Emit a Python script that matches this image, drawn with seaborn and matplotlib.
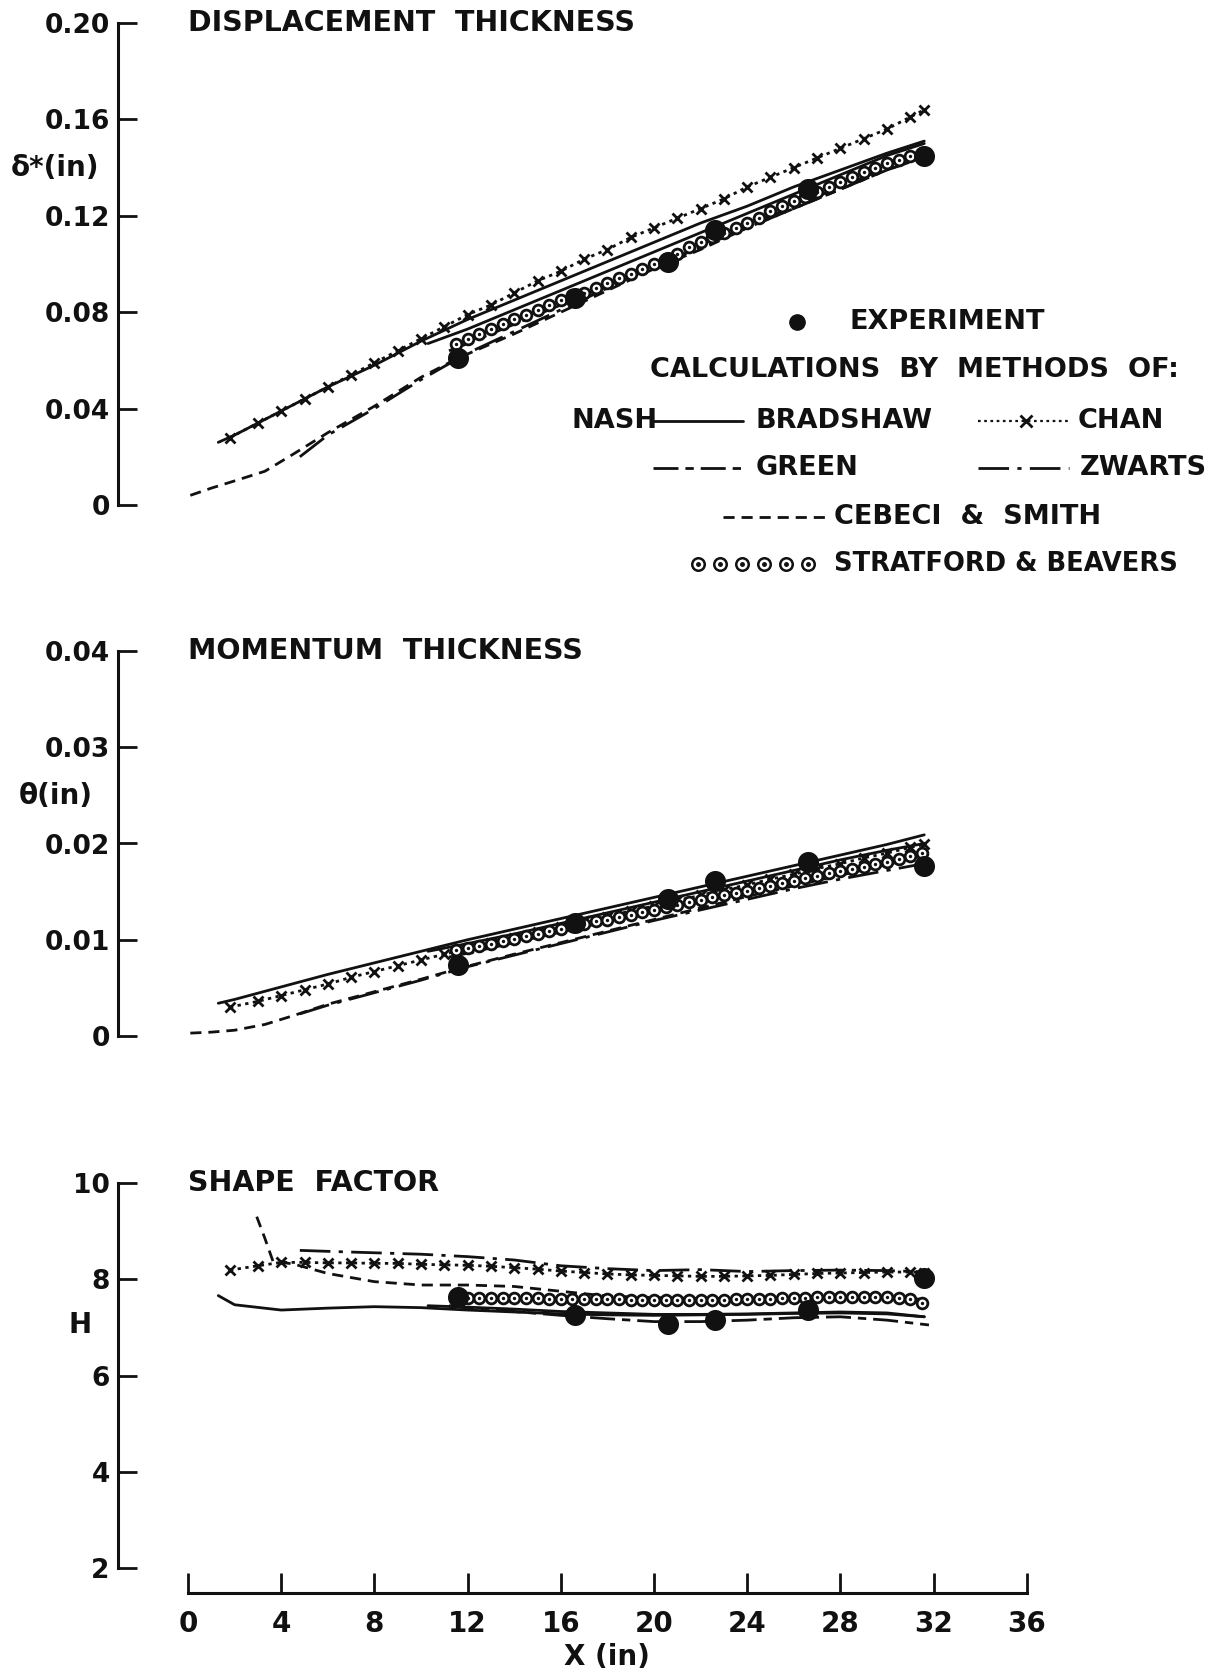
import numpy as np
import pandas as pd
import matplotlib
matplotlib.use("Agg")
import matplotlib.pyplot as plt
import seaborn as sns

sns.set_style("white")
plt.rcParams['font.family'] = ['DejaVu Sans']
plt.rcParams['font.weight'] = 'bold'

# ---------------- data ----------------
exp_x = [11.6, 16.6, 20.6, 22.6, 26.6, 31.6]
exp_dstar = [0.061, 0.086, 0.101, 0.114, 0.131, 0.145]
exp_theta = [0.0074, 0.0117, 0.0142, 0.0161, 0.0181, 0.0177]
exp_H = [7.63, 7.26, 7.08, 7.15, 7.36, 8.02]

nash_x = [1.3, 2, 4, 6, 8, 10, 12, 14, 16, 18, 20, 22, 24, 26, 28, 30, 31.6]
nash_dstar = [0.026, 0.029, 0.039, 0.049, 0.058, 0.068, 0.077, 0.085, 0.093, 0.101,
              0.109, 0.117, 0.124, 0.132, 0.139, 0.146, 0.151]
nash_theta = [0.0034, 0.0038, 0.0051, 0.0064, 0.0076, 0.0088, 0.0100, 0.0111, 0.0122,
              0.0133, 0.0144, 0.0155, 0.0166, 0.0177, 0.0188, 0.0199, 0.0209]
nash_H = [7.66, 7.47, 7.36, 7.40, 7.43, 7.41, 7.36, 7.32, 7.28, 7.26, 7.25, 7.26,
          7.27, 7.29, 7.30, 7.28, 7.22]

brad_x = [10.3, 12, 14, 16, 18, 20, 22, 24, 26, 28, 30, 31.6]
brad_dstar = [0.067, 0.073, 0.081, 0.089, 0.097, 0.105, 0.113, 0.121, 0.129, 0.137, 0.145, 0.150]
brad_theta = [0.0088, 0.0096, 0.0106, 0.0117, 0.0128, 0.0139, 0.0150, 0.0161, 0.0172,
              0.0183, 0.0193, 0.0200]
brad_H = [7.45, 7.42, 7.38, 7.33, 7.30, 7.27, 7.27, 7.28, 7.30, 7.32, 7.30, 7.22]

chan_x = [1.8, 3, 4, 5, 6, 7, 8, 9, 10, 11, 12, 13, 14, 15, 16, 17, 18, 19, 20, 21, 22,
          23, 24, 25, 26, 27, 28, 29, 30, 31, 31.6]
chan_dstar = [0.028, 0.034, 0.039, 0.044, 0.049, 0.054, 0.059, 0.064, 0.069, 0.074,
              0.079, 0.083, 0.088, 0.093, 0.097, 0.102, 0.106, 0.111, 0.115, 0.119,
              0.123, 0.127, 0.132, 0.136, 0.140, 0.144, 0.148, 0.152, 0.156, 0.161, 0.164]
chan_theta = [0.0030, 0.0036, 0.0042, 0.0048, 0.0054, 0.0061, 0.0067, 0.0073, 0.0079,
              0.0085, 0.0091, 0.0097, 0.0102, 0.0108, 0.0113, 0.0119, 0.0124, 0.0130,
              0.0135, 0.0141, 0.0146, 0.0152, 0.0157, 0.0163, 0.0168, 0.0174, 0.0179,
              0.0185, 0.0190, 0.0196, 0.0199]
chan_H = [8.19, 8.28, 8.35, 8.35, 8.34, 8.34, 8.33, 8.33, 8.31, 8.30, 8.29, 8.27, 8.24,
          8.21, 8.17, 8.14, 8.11, 8.09, 8.08, 8.07, 8.06, 8.06, 8.07, 8.08, 8.10, 8.12,
          8.13, 8.14, 8.15, 8.15, 8.14]

green_x = [11.2, 12, 14, 16, 18, 20, 22, 24, 26, 28, 30, 31.8]
green_dstar = [0.064, 0.067, 0.075, 0.083, 0.091, 0.099, 0.107, 0.115, 0.123, 0.131, 0.139, 0.145]
green_theta = [0.0082, 0.0086, 0.0097, 0.0108, 0.0119, 0.0130, 0.0141, 0.0152, 0.0163,
               0.0173, 0.0182, 0.0189]
green_H = [7.45, 7.40, 7.33, 7.25, 7.18, 7.12, 7.12, 7.15, 7.20, 7.22, 7.15, 7.05]

zw_x = [4.8, 6, 8, 10, 12, 14, 16, 18, 20, 22, 24, 26, 28, 30, 31.8]
zw_dstar = [0.020, 0.029, 0.040, 0.052, 0.063, 0.072, 0.081, 0.090, 0.099, 0.107, 0.116,
            0.124, 0.132, 0.140, 0.147]
zw_theta = [0.0023, 0.0032, 0.0045, 0.0058, 0.0072, 0.0084, 0.0096, 0.0108, 0.0120,
            0.0131, 0.0142, 0.0153, 0.0163, 0.0172, 0.0180]
zw_H = [8.60, 8.58, 8.55, 8.52, 8.47, 8.40, 8.28, 8.22, 8.18, 8.20, 8.16, 8.18, 8.19, 8.18, 8.15]

ceb_x = [0.1, 1, 2, 3.3, 4.5, 6, 8, 10, 11.6, 14, 16, 18, 20, 22, 24, 26, 28, 30, 31.7]
ceb_dstar = [0.004, 0.007, 0.010, 0.014, 0.021, 0.030, 0.041, 0.053, 0.061, 0.071, 0.080,
             0.089, 0.098, 0.106, 0.115, 0.123, 0.131, 0.139, 0.145]
ceb_theta = [0.0003, 0.0004, 0.0006, 0.0012, 0.0021, 0.0033, 0.0046, 0.0059, 0.0070,
             0.0085, 0.0097, 0.0109, 0.0121, 0.0133, 0.0145, 0.0156, 0.0167, 0.0178, 0.0188]
ceb_xH = [2.95, 3.3, 3.65, 4.5, 6, 8, 10, 12, 14, 16, 18, 20, 22, 24, 26, 28, 30, 31.7]
ceb_H = [9.30, 8.85, 8.37, 8.32, 8.12, 7.95, 7.88, 7.88, 7.85, 7.75, 7.65, 7.62, 7.60,
         7.60, 7.62, 7.63, 7.62, 7.58]

sb_x = [11.5, 12.0, 12.5, 13.0, 13.5, 14.0, 14.5, 15.0, 15.5, 16.0, 16.5, 17.0, 17.5,
        18.0, 18.5, 19.0, 19.5, 20.0, 20.5, 21.0, 21.5, 22.0, 22.5, 23.0, 23.5, 24.0,
        24.5, 25.0, 25.5, 26.0, 26.5, 27.0, 27.5, 28.0, 28.5, 29.0, 29.5, 30.0, 30.5,
        31.0, 31.5]
sb_dstar = [0.067, 0.069, 0.071, 0.073, 0.075, 0.077, 0.079, 0.081, 0.083, 0.085, 0.087,
            0.088, 0.090, 0.092, 0.094, 0.096, 0.098, 0.100, 0.102, 0.104, 0.107, 0.109,
            0.111, 0.113, 0.115, 0.117, 0.119, 0.122, 0.124, 0.126, 0.128, 0.130, 0.132,
            0.134, 0.136, 0.138, 0.140, 0.142, 0.143, 0.145, 0.146]
sb_theta = [0.0089, 0.0091, 0.0094, 0.0096, 0.0099, 0.0101, 0.0104, 0.0106, 0.0109,
            0.0111, 0.0114, 0.0116, 0.0119, 0.0121, 0.0124, 0.0126, 0.0129, 0.0131,
            0.0134, 0.0136, 0.0139, 0.0141, 0.0144, 0.0146, 0.0149, 0.0151, 0.0154,
            0.0156, 0.0159, 0.0161, 0.0164, 0.0166, 0.0169, 0.0171, 0.0174, 0.0176,
            0.0179, 0.0181, 0.0184, 0.0187, 0.0190]
sb_H = [7.63, 7.62, 7.62, 7.62, 7.62, 7.62, 7.61, 7.61, 7.60, 7.60, 7.59, 7.59, 7.58,
        7.58, 7.58, 7.57, 7.57, 7.57, 7.57, 7.57, 7.57, 7.57, 7.57, 7.57, 7.58, 7.58,
        7.59, 7.60, 7.61, 7.62, 7.62, 7.63, 7.63, 7.63, 7.64, 7.64, 7.64, 7.64, 7.62,
        7.58, 7.50]

x_ticks = [0, 4, 8, 12, 16, 20, 24, 28, 32, 36]
dstar_ticks = [0, 0.04, 0.08, 0.12, 0.16, 0.20]
dstar_ticklabels = ["0", "0.04", "0.08", "0.12", "0.16", "0.20"]
theta_ticks = [0, 0.01, 0.02, 0.03, 0.04]
theta_ticklabels = ["0", "0.01", "0.02", "0.03", "0.04"]
H_ticks = [2, 4, 6, 8, 10]
H_ticklabels = ["2", "4", "6", "8", "10"]

# ---------------- styles ----------------
INK = "#111111"
LW = 2.0
styles = {
    "nash": dict(linestyle="-"),
    "brad": dict(linestyle="-"),
    "chan": dict(linestyle=(0, (1.2, 1.6)), marker="x", markersize=7,
                 markeredgewidth=2.0, markeredgecolor=INK),
    "green": dict(linestyle=(0, (9, 2.5, 3, 2.5))),
    "zw": dict(linestyle=(0, (11, 3, 1.5, 3))),
    "ceb": dict(linestyle=(0, (4, 2.5))),
}

W, H = 1209, 1676
fig = plt.figure(figsize=(W / 100, H / 100), dpi=100)
fig.patch.set_facecolor("white")

x0_px, px_per_in, yax_px = 188.0, 23.3, 118.0
xlim_lo = (yax_px - x0_px) / px_per_in
xlim_hi = 37.0
ax_left = yax_px / W
ax_w = (x0_px + xlim_hi * px_per_in - yax_px) / W


def make_ax(top_px, bot_px):
    return fig.add_axes([ax_left, 1 - bot_px / H, ax_w, (bot_px - top_px) / H])


ax1 = make_ax(23.0, 505.0)
ax2 = make_ax(651.0, 1036.0)
ax3 = make_ax(1183.0, 1568.0)


def draw_panel(ax, key):
    series = [
        ("nash", nash_x, {"d": nash_dstar, "t": nash_theta, "h": nash_H}),
        ("brad", brad_x, {"d": brad_dstar, "t": brad_theta, "h": brad_H}),
        ("green", green_x, {"d": green_dstar, "t": green_theta, "h": green_H}),
        ("zw", zw_x, {"d": zw_dstar, "t": zw_theta, "h": zw_H}),
        ("chan", chan_x, {"d": chan_dstar, "t": chan_theta, "h": chan_H}),
    ]
    for name, xs, ys in series:
        df = pd.DataFrame({"x": xs, "y": ys[key]})
        sns.lineplot(data=df, x="x", y="y", ax=ax, color=INK, lw=LW, sort=False,
                     estimator=None, legend=False, **styles[name])
    if key == "h":
        df = pd.DataFrame({"x": ceb_xH, "y": ceb_H})
    else:
        df = pd.DataFrame({"x": ceb_x, "y": ceb_dstar if key == "d" else ceb_theta})
    sns.lineplot(data=df, x="x", y="y", ax=ax, color=INK, lw=LW, sort=False,
                 estimator=None, legend=False, **styles["ceb"])
    sbv = {"d": sb_dstar, "t": sb_theta, "h": sb_H}[key]
    dsb = pd.DataFrame({"x": sb_x, "y": sbv})
    sns.scatterplot(data=dsb, x="x", y="y", ax=ax, marker="o", s=60,
                    facecolor="white", edgecolor=INK, linewidth=2.0, zorder=4, legend=False)
    sns.scatterplot(data=dsb, x="x", y="y", ax=ax, marker="o", s=6,
                    color=INK, linewidth=0, zorder=5, legend=False)
    ev = {"d": exp_dstar, "t": exp_theta, "h": exp_H}[key]
    dex = pd.DataFrame({"x": exp_x, "y": ev})
    sns.scatterplot(data=dex, x="x", y="y", ax=ax, marker="o", s=230,
                    color=INK, linewidth=0, zorder=6, legend=False)


draw_panel(ax1, "d")
draw_panel(ax2, "t")
draw_panel(ax3, "h")

for ax, lim, ticks, labels, title in [
    (ax1, (0, 0.20), dstar_ticks, dstar_ticklabels, "DISPLACEMENT  THICKNESS"),
    (ax2, (0, 0.04), theta_ticks, theta_ticklabels, "MOMENTUM  THICKNESS"),
    (ax3, (2, 10), H_ticks, H_ticklabels, "SHAPE  FACTOR"),
]:
    ax.set_facecolor("none")
    ax.set_xlim(xlim_lo, xlim_hi)
    ax.set_ylim(*lim)
    ax.set_yticks(ticks)
    ax.set_yticklabels(labels)
    ax.set_xlabel("")
    ax.set_ylabel("")
    for s in ("top", "right"):
        ax.spines[s].set_visible(False)
    ax.spines["left"].set_linewidth(2.2)
    ax.spines["left"].set_color(INK)
    ax.tick_params(axis="y", left=True, direction="in", length=13.5, width=2.0, pad=6,
                   labelsize=19, colors=INK)
    for t in ax.get_yticklabels():
        t.set_fontweight("bold")
    ax.text(0, lim[1], title, fontsize=20.5, fontweight="bold", color=INK,
            ha="left", va="center")
    if ax is not ax3:
        ax.spines["bottom"].set_visible(False)
        ax.set_xticks([])

ax3.spines["bottom"].set_position(("outward", 18))
ax3.spines["bottom"].set_bounds(0, 36)
ax3.spines["bottom"].set_linewidth(2.2)
ax3.spines["bottom"].set_color(INK)
ax3.set_xticks(x_ticks)
ax3.set_xticklabels([str(v) for v in x_ticks])
ax3.tick_params(axis="x", bottom=True, direction="in", length=14.5, width=2.0, pad=12,
                labelsize=20, colors=INK)
for t in ax3.get_xticklabels():
    t.set_fontweight("bold")

# axis titles
fig.text(55 / W, 1 - 168 / H, "δ*(in)", fontsize=20, fontweight="bold",
         ha="center", va="center", color=INK)
fig.text(56 / W, 1 - 796 / H, "θ(in)", fontsize=20, fontweight="bold",
         ha="center", va="center", color=INK)
fig.text(80 / W, 1 - 1325 / H, "H", fontsize=20, fontweight="bold",
         ha="center", va="center", color=INK)
fig.text(607 / W, 1 - 1657 / H, "X (in)", fontsize=20, fontweight="bold",
         ha="center", va="center", color=INK)

# ---------------- legend key (pixel space overlay) ----------------
lg = fig.add_axes([0, 0, 1, 1])
lg.set_xlim(0, W)
lg.set_ylim(H, 0)
lg.axis("off")
lg.patch.set_alpha(0)
FS = 19.5


def ltext(x, y, s, fs=FS):
    lg.text(x, y, s, fontsize=fs, fontweight="bold", ha="left", va="center", color=INK)


lg.plot([797], [322], marker="o", markersize=11, color=INK, linestyle="none")
ltext(850, 322, "EXPERIMENT")
ltext(650, 370, "CALCULATIONS  BY  METHODS  OF:")
ltext(572, 421, "NASH")
lg.plot([652, 743], [421, 421], color=INK, lw=LW, **styles["nash"])
ltext(756, 421, "BRADSHAW")
lg.plot([978, 1069], [421, 421], color=INK, lw=1.6, linestyle=(0, (1.2, 1.6)))
lg.plot([1026], [421], marker="x", markersize=8, markeredgewidth=2.0, color=INK)
ltext(1078, 421, "CHAN")
lg.plot([653, 745], [468, 468], color=INK, lw=LW, **styles["green"])
ltext(756, 468, "GREEN")
lg.plot([978, 1069], [468, 468], color=INK, lw=LW, **styles["zw"])
ltext(1080, 468, "ZWARTS")
lg.plot([723, 828], [517, 517], color=INK, lw=LW, **styles["ceb"])
ltext(834, 517, "CEBECI  &  SMITH")
circ_x = [698, 720, 742, 764, 786, 808]
lg.plot(circ_x, [564] * 6, marker="o", markersize=9, markerfacecolor="white",
        markeredgecolor=INK, markeredgewidth=1.8, linestyle="none")
lg.plot(circ_x, [564] * 6, marker="o", markersize=2.5, color=INK, linestyle="none")
ltext(834, 564, "STRATFORD & BEAVERS", fs=18.5)

fig.savefig("out.png", dpi=100, facecolor="white")
